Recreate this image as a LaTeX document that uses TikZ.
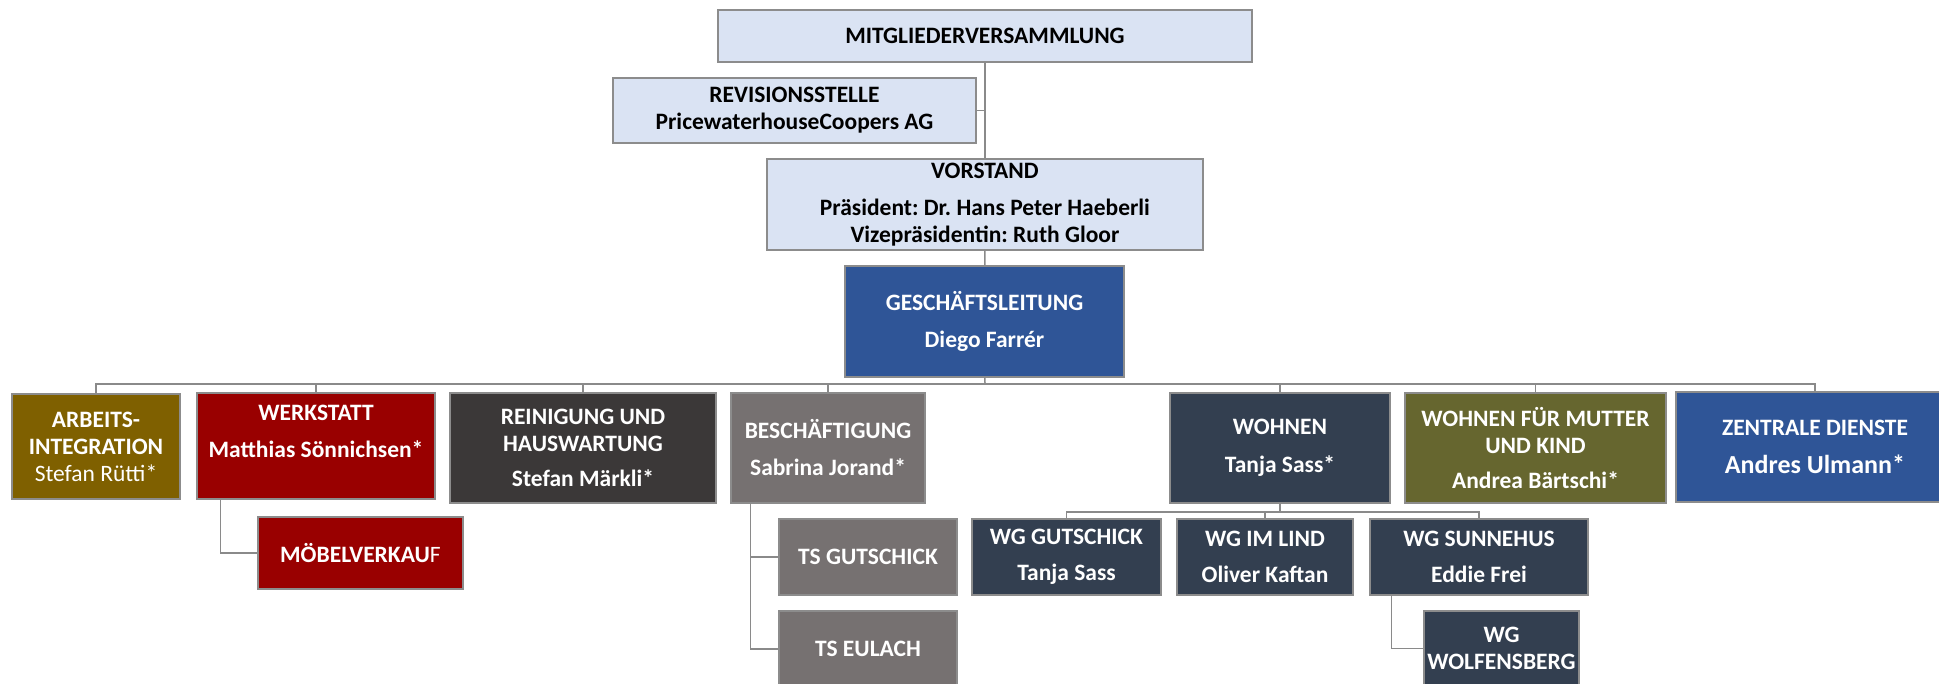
\documentclass[tikz,border=0pt]{standalone}
\usepackage{fontspec}
\setmainfont{Carlito}
\frenchspacing
\definecolor{boxline}{HTML}{8C8C8C}
\definecolor{conline}{HTML}{8A8A8A}
\definecolor{pale}{HTML}{DAE3F3}
\definecolor{royal}{HTML}{2F5597}
\definecolor{ochre}{HTML}{7F6000}
\definecolor{wine}{HTML}{990000}
\definecolor{coal}{HTML}{3B3838}
\definecolor{stone}{HTML}{767171}
\definecolor{navy}{HTML}{333F50}
\definecolor{moss}{HTML}{66662F}

\begin{document}
\begin{tikzpicture}[x=1pt, y=-1pt,
    orgbox/.style={draw=boxline, line width=1.2pt, inner sep=0pt, align=center,
      font=\fontsize{23.5}{27}\selectfont\bfseries},
    organ/.style={orgbox, fill=pale},
    dept/.style={orgbox, fill=#1, text=white},
    conn/.style={draw=conline, line width=1.5pt}]
    \useasboundingbox[fill=white] (0,0) rectangle (1939,684);
    \clip (0,0) rectangle (1939,684);
    % Vereinsorgane
    \node[organ, minimum width=534pt, minimum height=52pt] (mv) at (985,36) {MITGLIEDERVERSAMMLUNG};
    \node[organ, minimum width=363pt, minimum height=65pt] (rev) at (794.5,110.5) {REVISIONSSTELLE\\PricewaterhouseCoopers AG};
    \node[organ, minimum width=436pt, minimum height=91pt] (vor) at (985,204.5) {VORSTAND\\[10pt]Präsident: Dr. Hans Peter Haeberli\\Vizepräsidentin: Ruth Gloor};
    \node[dept=royal, minimum width=279pt, minimum height=111pt] (gl) at (984.5,321.5) {GESCHÄFTSLEITUNG\\[10pt]Diego Farrér};
    % Bereiche
    \node[dept=ochre, minimum width=168pt, minimum height=105pt] (arb) at (96,446.5) {ARBEITS-\\INTEGRATION\\{\mdseries Stefan Rütti*}};
    \node[dept=wine, minimum width=238pt, minimum height=106pt] (werk) at (316,446) {WERKSTATT\\[10pt]Matthias Sönnichsen*\\[3pt]\mbox{}};
    \node[dept=coal, minimum width=266pt, minimum height=110pt] (rein) at (583,448) {REINIGUNG UND\\HAUSWARTUNG\\[8pt]Stefan Märkli*};
    \node[dept=stone, minimum width=194pt, minimum height=110pt] (besch) at (828,448) {BESCHÄFTIGUNG\\[10pt]Sabrina Jorand*};
    \node[dept=navy, minimum width=220pt, minimum height=110pt] (wohn) at (1280,448) {WOHNEN\\[11pt]Tanja Sass*};
    \node[dept=moss, minimum width=261pt, minimum height=110pt] (mut) at (1535.5,448) {WOHNEN FÜR MUTTER\\UND KIND\\[8pt]Andrea Bärtschi*};
    \node[dept=royal, minimum width=278pt, minimum height=110pt] (zen) at (1815,447) {ZENTRALE DIENSTE\\[11pt]{\fontsize{26}{30}\selectfont Andres Ulmann*}};
    % Unterstellen
    \node[dept=wine, minimum width=205pt, minimum height=72pt] (moeb) at (360.5,553) {MÖBELVERKAU{\mdseries F}};
    \node[dept=stone, minimum width=178pt, minimum height=76pt] (tsg) at (868,557) {TS GUTSCHICK};
    \node[dept=stone, minimum width=178pt, minimum height=76pt] (tse) at (868,649) {TS EULACH};
    \node[dept=navy, minimum width=189pt, minimum height=76pt] (wgg) at (1066.5,557) {WG GUTSCHICK\\[9pt]Tanja Sass};
    \node[dept=navy, minimum width=176pt, minimum height=76pt] (wgl) at (1265,557) {WG IM LIND\\[9pt]Oliver Kaftan};
    \node[dept=navy, minimum width=218pt, minimum height=76pt] (wgs) at (1479,557) {WG SUNNEHUS\\[9pt]Eddie Frei};
    \node[dept=navy, minimum width=155pt, minimum height=75pt] (wgw) at (1501.5,648.5) {WG\\WOLFENSBERG};
    % Linien
    \coordinate (bus) at (985,384);
    \coordinate (wgbus) at (1280,512);
    \draw[conn] (mv) -- (vor);
    \draw[conn] (rev.east) -- (rev.east -| mv.south);
    \draw[conn] (vor) -- (gl);
    \draw[conn] (gl) -- (bus);
    \foreach \n in {arb,werk,rein,besch,wohn,mut,zen}
        \draw[conn] (bus) -| (\n);
    \draw[conn] (wohn) -- (wgbus);
    \foreach \n in {wgg,wgl,wgs}
        \draw[conn] (wgbus) -| (\n);
    \draw[conn] ([xshift=24pt]werk.south west) |- (moeb);
    \foreach \n in {tsg,tse}
        \draw[conn] ([xshift=20pt]besch.south west) |- (\n);
    \draw[conn] ([xshift=22pt]wgs.south west) |- (wgw);
\end{tikzpicture}
\end{document}
